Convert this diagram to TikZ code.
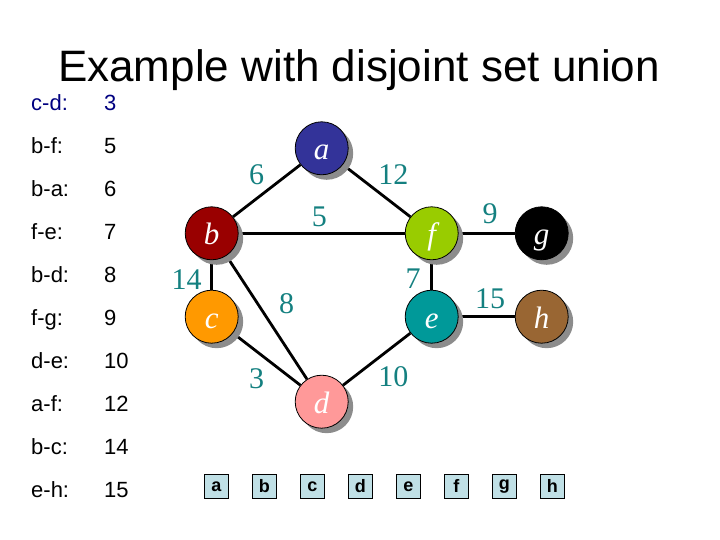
\documentclass[tikz,border=0pt]{standalone}
\usepackage{fontspec}
\setmainfont{Liberation Serif}
\newfontfamily\arial{Liberation Sans}
\usetikzlibrary{shadows}
\definecolor{ca}{RGB}{51,51,153}
\definecolor{cb}{RGB}{153,0,0}
\definecolor{cc}{RGB}{255,153,0}
\definecolor{cd}{RGB}{255,153,153}
\definecolor{ce}{RGB}{0,153,153}
\definecolor{cf}{RGB}{153,204,0}
\definecolor{cg}{RGB}{0,0,0}
\definecolor{ch}{RGB}{153,102,51}
\definecolor{lbl}{RGB}{20,128,128}
\definecolor{shd}{RGB}{140,140,140}
\definecolor{boxfill}{RGB}{192,224,230}
\definecolor{navy}{RGB}{0,0,128}
\pgfdeclarelayer{bg}
\pgfsetlayers{bg,main}
\tikzset{
  vtx/.style={circle, draw=black, line width=0.8pt, minimum size=53pt, inner sep=0pt,
    text=white, font=\fontsize{31}{31}\selectfont\itshape,
    text height=23pt, text depth=0pt,
    drop shadow={shadow xshift=5pt, shadow yshift=-5pt, fill=shd, opacity=1}},
  wt/.style={text=lbl, font=\fontsize{30}{30}\selectfont, inner sep=0pt},
  edge/.style={line width=2.8pt, black},
  lst/.style={font=\arial\fontsize{22}{22}\selectfont, anchor=base west, inner sep=0pt},
  setbox/.style={draw=black, line width=0.8pt, fill=boxfill, minimum size=24pt, inner sep=0pt,
    font=\arial\bfseries\fontsize{18}{18}\selectfont}
}
\begin{document}
\begin{tikzpicture}[x=1pt,y=-1pt]
\useasboundingbox (0,0) rectangle (720,540);
% title
\node[font=\arial\fontsize{44}{44}\selectfont, anchor=base, inner sep=0pt] (title) at (359,82) {Example with disjoint set union};
% edge list
\foreach \k/\e/\w in {0/c-d:/3,1/b-f:/5,2/b-a:/6,3/f-e:/7,4/b-d:/8,5/f-g:/9,6/d-e:/10,7/a-f:/12,8/b-c:/14,9/e-h:/15}{
  \ifnum\k=0
    \node[lst, text=navy] (le\k) at (31,{110.7+43.03*\k}) {\e};
    \node[lst, text=navy] (lw\k) at (104,{110.7+43.03*\k}) {\w};
  \else
    \node[lst] (le\k) at (31,{110.7+43.03*\k}) {\e};
    \node[lst] (lw\k) at (104,{110.7+43.03*\k}) {\w};
  \fi
}
% vertices
\node[vtx, fill=ca] (a) at (321.7,148.3) {a};
\node[vtx, fill=cb] (b) at (211.7,233.3) {b};
\node[vtx, fill=cf] (f) at (431.7,233.3) {f};
\node[vtx, fill=cg] (g) at (541.7,233.3) {g};
\node[vtx, fill=cc] (c) at (211.7,316.7) {c};
\node[vtx, fill=ce] (e) at (431.7,316.7) {e};
\node[vtx, fill=ch] (h) at (541.7,316.7) {h};
\node[vtx, fill=cd] (d) at (321.7,401.7) {d};
% edges
\begin{pgfonlayer}{bg}
\draw[edge] (a) -- (b);
\draw[edge] (a) -- (f);
\draw[edge] (b) -- (f);
\draw[edge] (b) -- (c);
\draw[edge] (b) -- (d);
\draw[edge] (f) -- (e);
\draw[edge] (f) -- (g);
\draw[edge] (e) -- (h);
\draw[edge] (e) -- (d);
\draw[edge] (c) -- (d);
\end{pgfonlayer}
% weights
\node[wt] (w6) at (256.7,175) {6};
\node[wt] (w12) at (393.3,175) {12};
\node[wt] (w5) at (319.3,216.7) {5};
\node[wt] (w14) at (186.7,280) {14};
\node[wt] (w7) at (413,278.3) {7};
\node[wt] (w8) at (286.7,303.3) {8};
\node[wt] (w9) at (490,213.3) {9};
\node[wt] (w15) at (490,298.3) {15};
\node[wt] (w3) at (256.7,378.3) {3};
\node[wt] (w10) at (393.3,376.7) {10};
% set boxes
\foreach \k/\t in {0/a,1/b,2/c,3/d,4/e,5/f,6/g,7/h}{
  \node[setbox] (s\t) at ({216.3+48*\k},486.3) {\t};
}
\end{tikzpicture}
\end{document}
